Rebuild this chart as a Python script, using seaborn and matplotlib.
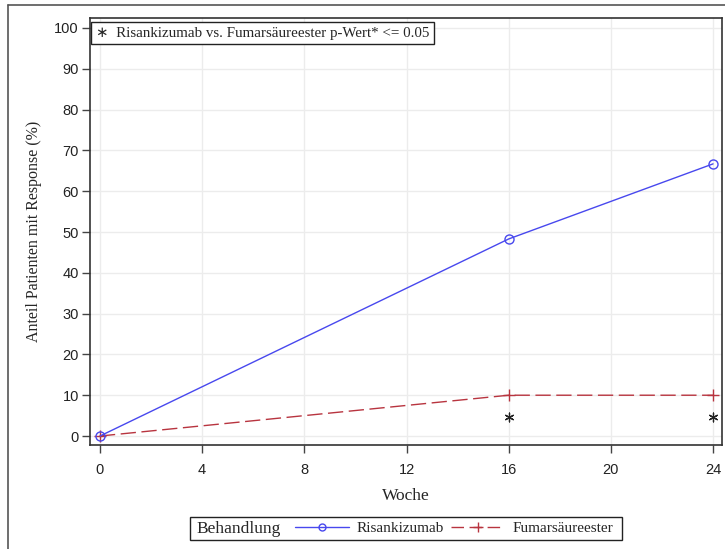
import matplotlib
matplotlib.use("Agg")
import matplotlib.pyplot as plt
import seaborn as sns
import pandas as pd
from matplotlib.lines import Line2D
from matplotlib.patches import Rectangle

# Response rates by week and treatment arm
weeks = [0, 16, 24]
risankizumab = [0.0, 48.3, 66.7]
fumarsaeureester = [0.0, 10.0, 10.0]
treatments = ["Risankizumab", "Fumarsäureester"]
# Weeks with p <= 0.05, and where the asterisk is placed
sig_weeks = [16, 24]
sig_y = [4.6, 4.6]
x_ticks = [0, 4, 8, 12, 16, 20, 24]
y_ticks = list(range(0, 101, 10))

df_risa = pd.DataFrame({"Woche": weeks, "Anteil": risankizumab})
df_fum = pd.DataFrame({"Woche": weeks, "Anteil": fumarsaeureester})

sns.set_style("white")
serif = "Liberation Serif"
sans = "Liberation Sans"

blue = "#4848ee"
red = "#b8343f"

fig = plt.figure(figsize=(7.25, 5.49), dpi=100)
ax = fig.add_axes([90 / 725, 1 - 445 / 549, 632 / 725, 427 / 549])

# outer frame (left and top edges visible)
fig.add_artist(Line2D([8 / 725, 8 / 725], [0, 1 - 5 / 549], transform=fig.transFigure,
                      color="#555555", lw=1.2))
fig.add_artist(Line2D([8 / 725, 1], [1 - 5 / 549, 1 - 5 / 549], transform=fig.transFigure,
                      color="#555555", lw=1.2))

ax.grid(True, color="#ececec", lw=1.0, zorder=0)
ax.set_axisbelow(True)

sns.lineplot(data=df_fum, x="Woche", y="Anteil", color=red, lw=1.0, dashes=False,
             ls=(0, (11, 4)), marker="+", markersize=9, markeredgewidth=1.0,
             markeredgecolor=red, ax=ax, zorder=3)
sns.lineplot(data=df_risa, x="Woche", y="Anteil", color=blue, lw=1.0,
             marker="o", markersize=6.5, markerfacecolor="none", markeredgecolor=blue,
             markeredgewidth=1.0, ax=ax, zorder=3)

ax.scatter(sig_weeks, sig_y, marker=(6, 2, 0), s=40, color="#222222", lw=0.9, zorder=4)

ax.set_xlim(-0.39, 24.35)
ax.set_ylim(-2.2, 102.45)
ax.set_xticks(x_ticks)
ax.set_yticks(y_ticks)
for lab in ax.get_xticklabels() + ax.get_yticklabels():
    lab.set_fontfamily(sans)
    lab.set_fontsize(10.5)
    lab.set_color("#222222")
ax.tick_params(axis="both", direction="out", length=6, width=1, color="#444444",
               left=True, bottom=True)
ax.tick_params(axis="y", pad=2)
ax.tick_params(axis="x", pad=7)
for sp in ax.spines.values():
    sp.set_color("#333333")
    sp.set_linewidth(1.2)

ax.set_xlabel("Woche", fontfamily=serif, fontsize=12.5, labelpad=8)
ax.set_ylabel("Anteil Patienten mit Response (%)", fontfamily=serif, fontsize=11.5,
              labelpad=9)

# significance note
ax.text(0.009, 0.98, "\u2217  Risankizumab vs. Fumarsäureester p-Wert* <= 0.05",
        transform=ax.transAxes, ha="left", va="top", fontfamily=[serif, "DejaVu Sans"],
        fontsize=10.8,
        bbox=dict(boxstyle="square,pad=0.3", fc="white", ec="#222222", lw=1.0))

# treatment legend below the axes
fig.add_artist(Rectangle((190 / 725, 1 - 540 / 549), 432 / 725, 23 / 549,
                         transform=fig.transFigure, fill=False, ec="#222222", lw=1.0))
fig.text(196 / 725, 1 - 529 / 549, "Behandlung", fontfamily=serif, fontsize=12.5,
         ha="left", va="center")
handles = [
    Line2D([], [], color=blue, lw=1.0, marker="o", markerfacecolor="none", markersize=5),
    Line2D([], [], color=red, lw=1.0, ls=(0, (9, 4)), marker="+", markersize=7),
]
leg = fig.legend(handles, treatments, loc="center left",
                 bbox_to_anchor=(286 / 725, 1 - 528 / 549), ncol=2, frameon=False,
                 prop={"family": serif, "size": 11}, handlelength=3.5,
                 columnspacing=0.5, handletextpad=0.5, borderpad=0.1)

fig.savefig("out.png", dpi=100)
